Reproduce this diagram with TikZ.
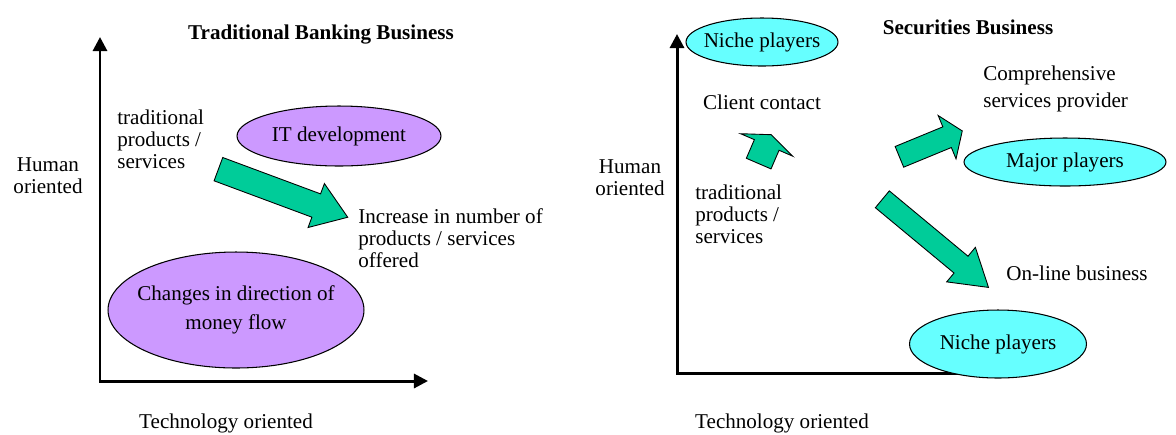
\documentclass[tikz,border=0pt]{standalone}
\usepackage{fontspec}
\setmainfont{Liberation Serif}
\usetikzlibrary{shapes.geometric}
\usetikzlibrary{shapes.arrows}
\usetikzlibrary{arrows.meta}

\definecolor{lilac}{HTML}{CC99FF}
\definecolor{aqua}{HTML}{66FFFF}
\definecolor{jade}{HTML}{00CC99}

\tikzset{
  blob/.style={ellipse, draw, line width=0.6pt, inner sep=0pt},
  bigarrow/.style={single arrow, draw, line width=0.5pt, fill=jade, inner xsep=0pt, anchor=tail},
  axis/.style={line width=1.7pt},
  tri/.tip={Triangle[length=8pt,width=8pt]},
  txt/.style={inner sep=0pt, align=left},
}

\begin{document}
\begin{tikzpicture}[x=0.02cm, y=-0.02cm, font=\fontsize{12}{12.6}\selectfont]
	\useasboundingbox (0,0) rectangle (1176,434);
	
	%% BANKING (left) %%
	% axes
	\coordinate (bankO) at (100,381);
	\coordinate (bankY) at (100,37);
	\coordinate (bankX) at (428,381);
	\draw[axis, tri-tri] (bankY) |- (bankX);
	
	\node[font=\fontsize{12}{13}\bfseries] (bankTitle) at (321,35) {Traditional Banking Business};
	\node[txt, align=center] (bankHuman) at (48,176) {Human\\oriented};
	\node[txt] (bankTech) at (226,423) {Technology oriented};
	
	% ellipses
	\node[blob, fill=lilac, minimum width=4.08cm, minimum height=1.2cm,
		label={center:IT development}] (itDev) at (339,136) {};
	\node[blob, fill=lilac, minimum width=5.12cm, minimum height=2.32cm,
		label={[align=center]center:Changes in direction of\\[4pt]money flow}] (moneyFlow) at (236,310) {};
	
	% texts and arrow (shaft = 2 x inner ysep)
	\node[txt, anchor=west] (bankTrad) at (117,139) {traditional\\products /\\services};
	\node[bigarrow, rotate=-20.4, minimum height=2.76cm, inner ysep=0.24cm,
		single arrow head extend=0.22cm, single arrow tip angle=69.8] (bankGrow) at (218,169) {};
	\node[txt, anchor=west] (bankMore) at (358,238) {Increase in number of\\products / services\\offered};
	%% END BANKING %%
	
	%% SECURITIES (right) %%
	% axes
	\coordinate (secO) at (677,373);
	\coordinate (secY) at (677,34);
	\coordinate (secX) at (975,373);
	\draw[axis, tri-] (secY) |- (secX);
	
	\node[font=\fontsize{12}{13}\bfseries] (secTitle) at (968,27) {Securities Business};
	\node[txt, align=center] (secHuman) at (630,178) {Human\\oriented};
	\node[txt] (secTech) at (782,423) {Technology oriented};
	
	% ellipses
	\node[blob, fill=aqua, minimum width=3.04cm, minimum height=0.96cm,
		label={center:Niche players}] (nicheTop) at (762,42) {};
	\node[blob, fill=aqua, minimum width=4.04cm, minimum height=0.96cm,
		label={center:Major players}] (major) at (1065,162) {};
	\node[blob, fill=aqua, minimum width=3.54cm, minimum height=1.36cm,
		label={center:Niche players}] (nicheLow) at (998,344) {};
	
	% texts
	\node[txt] (client) at (762,102) {Client contact};
	\node[txt, anchor=west] (compr) at (983,89) {Comprehensive\\[3pt]services provider};
	\node[txt, anchor=west] (secTrad) at (695,214) {traditional\\products /\\services};
	\node[txt] (online) at (1077,273) {On-line business};
	
	% arrows
	\node[bigarrow, rotate=66.7, minimum height=0.63cm, inner ysep=0.26cm,
		single arrow head extend=0.3cm, single arrow tip angle=137] (toClient) at (758.5,164) {};
	\node[bigarrow, rotate=22.4, minimum height=1.36cm, inner ysep=0.215cm,
		single arrow head extend=0.245cm, single arrow tip angle=110] (toMajor) at (899,157) {};
	\node[bigarrow, rotate=-39.7, minimum height=2.76cm, inner ysep=0.21cm,
		single arrow head extend=0.23cm, single arrow tip angle=64.3] (toOnline) at (882,199) {};
	%% END SECURITIES %%
\end{tikzpicture}
\end{document}
